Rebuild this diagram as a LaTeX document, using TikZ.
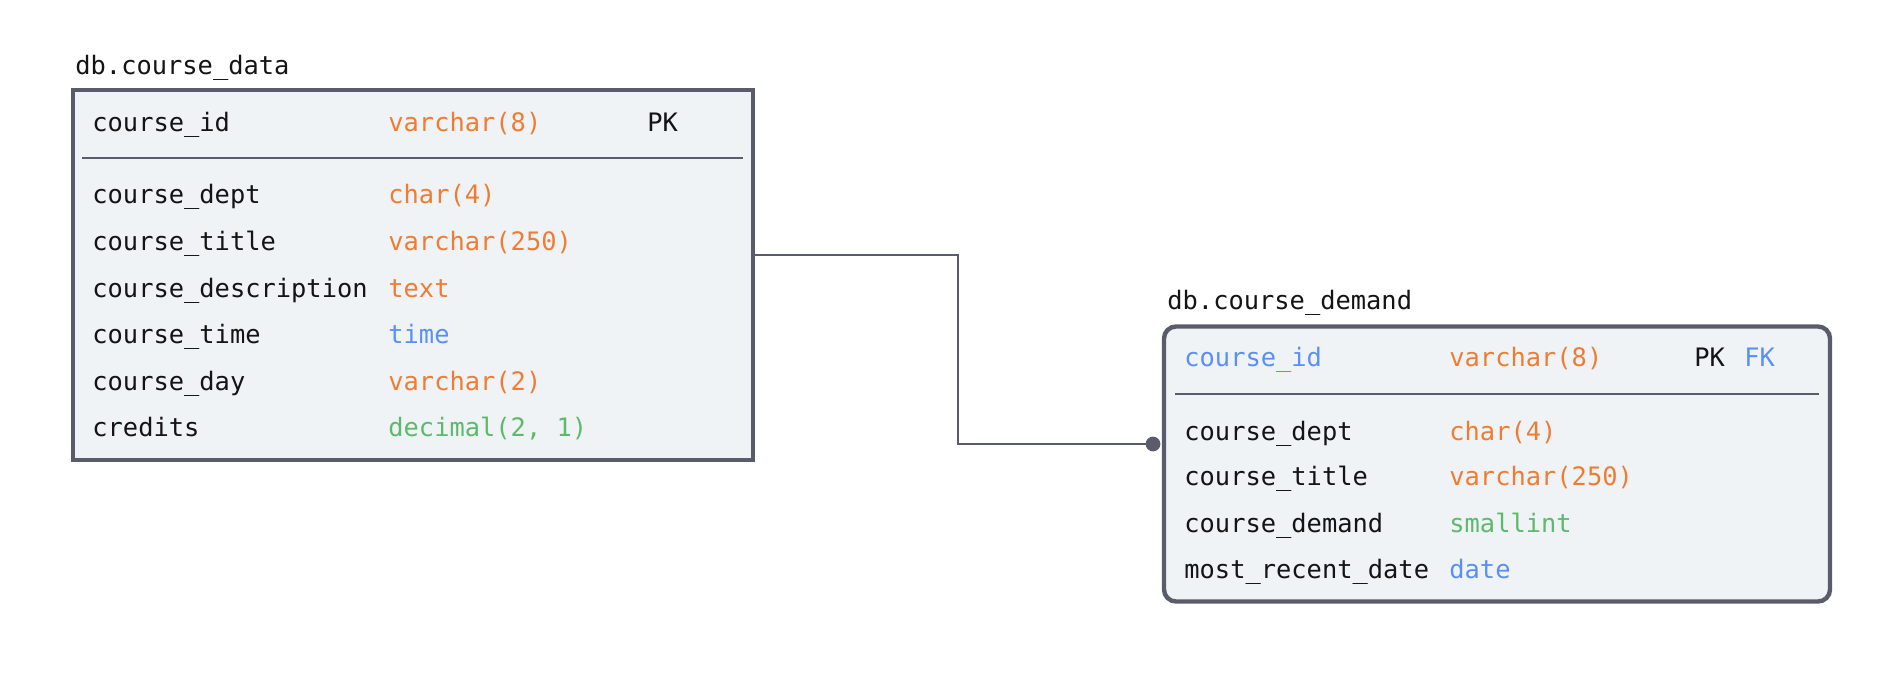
\documentclass[tikz,border=0pt]{standalone}
\usepackage{fontspec}
\setmainfont{DejaVu Sans Mono}
\definecolor{bordc}{HTML}{5A5C6B}
\definecolor{fillc}{HTML}{EFF3F6}
\definecolor{orc}{HTML}{EE7D33}
\definecolor{blc}{HTML}{5B8FF5}
\definecolor{grc}{HTML}{5CBB6B}
\definecolor{txc}{HTML}{141414}
\tikzset{
  tbl/.style={draw=bordc, fill=fillc, line width=2.2pt, inner sep=0pt},
  txt/.style={anchor=west, inner sep=0pt, yshift=-1.5pt, text height=0.76em, text depth=0.24em, text=txc, font=\fontsize{12.7}{15}\selectfont},
  ty/.style={txt, text=orc},
  tyb/.style={txt, text=blc},
  tyg/.style={txt, text=grc},
  sepline/.style={draw=bordc, line width=1.1pt},
  conn/.style={draw=bordc, line width=0.85pt},
}
\begin{document}
\begin{tikzpicture}[x=0.5pt, y=-0.5pt]
\useasboundingbox (0,0) rectangle (1890,674);
% left table
\node[tbl, minimum width=340pt, minimum height=185pt] (A) at (413,275) {};
\node[txt] (Alab) at (75,66) {db.course\_data};
\draw[sepline] (82,158) -- (743,158);
\node[txt] (a1) at (92,123) {course\_id};
\node[ty]  (a1t) at (388,123) {varchar(8)};
\node[txt] (a1k) at (647,123) {PK};
\node[txt] (a2) at (92,195) {course\_dept};
\node[ty]  (a2t) at (388,195) {char(4)};
\node[txt] (a3) at (92,242) {course\_title};
\node[ty]  (a3t) at (388,242) {varchar(250)};
\node[txt] (a4) at (92,289) {course\_description};
\node[ty]  (a4t) at (388,289) {text};
\node[txt] (a5) at (92,335) {course\_time};
\node[tyb] (a5t) at (388,335) {time};
\node[txt] (a6) at (92,382) {course\_day};
\node[ty]  (a6t) at (388,382) {varchar(2)};
\node[txt] (a7) at (92,428) {credits};
\node[tyg] (a7t) at (388,428) {decimal(2, 1)};
% right table
\node[tbl, rounded corners=6pt, minimum width=333pt, minimum height=137.5pt] (B) at (1497,464) {};
\node[txt] (Blab) at (1167,301) {db.course\_demand};
\draw[sepline] (1175,394) -- (1819,394);
\node[tyb] (b1) at (1184,358) {course\_id};
\node[ty]  (b1t) at (1449,358) {varchar(8)};
\node[txt] (b1k) at (1694,358) {PK};
\node[tyb] (b1f) at (1744,358) {FK};
\node[txt] (b2) at (1184,432) {course\_dept};
\node[ty]  (b2t) at (1449,432) {char(4)};
\node[txt] (b3) at (1184,477) {course\_title};
\node[ty]  (b3t) at (1449,477) {varchar(250)};
\node[txt] (b4) at (1184,524) {course\_demand};
\node[tyg] (b4t) at (1449,524) {smallint};
\node[txt] (b5) at (1184,570) {most\_recent\_date};
\node[tyb] (b5t) at (1449,570) {date};
% connector
\coordinate (s) at (A.east |- 0,255);
\coordinate (e) at (B.west |- 0,444);
\coordinate (dot) at (1153,444);
\draw[conn] (s) -| (958,444) -- (dot);
\fill[bordc] (dot) circle (3.7pt);
\end{tikzpicture}
\end{document}
